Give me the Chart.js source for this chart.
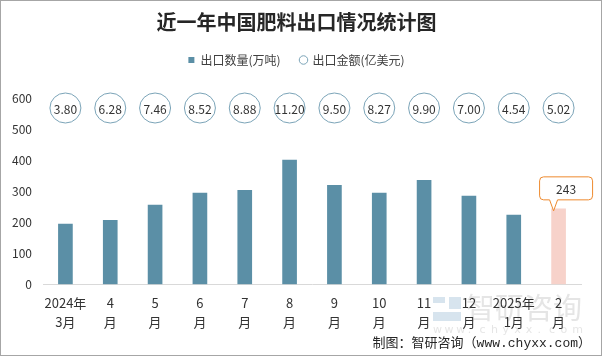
<!DOCTYPE html>
<html><head><meta charset="utf-8">
<script src="https://cdn.jsdelivr.net/npm/chart.js@4/dist/chart.umd.min.js"></script>
<style>html,body{margin:0;padding:0;background:#fff;}#wrap{width:602px;height:356px;position:relative;}canvas{display:block;}</style>
</head><body><div id="wrap"><canvas id="c" width="602" height="356"></canvas></div>
<script>
const chartTitle = '近一年中国肥料出口情况统计图';
const categories = [['2024年','3月'],['4','月'],['5','月'],['6','月'],['7','月'],['8','月'],['9','月'],['10','月'],['11','月'],['12','月'],['2025年','1月'],['2','月']];
const volumeName = '出口数量(万吨)';
const valueName = '出口金额(亿美元)';
const exportVolume = [194, 206, 255, 294, 303, 400, 319, 294, 335, 284, 223, 243];
const exportValue = [3.80, 6.28, 7.46, 8.52, 8.88, 11.20, 9.50, 8.27, 9.90, 7.00, 4.54, 5.02];
const yTickValues = [0, 100, 200, 300, 400, 500, 600];
const highlightIndex = 11;
const footerText = '制图：智研咨询（www.chyxx.com）';

const CJK = '"Noto Sans CJK SC", "Noto Sans", sans-serif';
const barColor = '#5B8FA6';
const highlightColor = '#F7D2CA';
const bubbleColor = '#7BA4B8';

const framePlugin = {
  id: 'frame',
  beforeDraw(chart) {
    const ctx = chart.ctx;
    ctx.save();
    ctx.fillStyle = '#fff';
    ctx.fillRect(0, 0, chart.width, chart.height);
    // watermark
    ctx.globalAlpha = 0.55;
    ctx.fillStyle = '#b7cde0';
    ctx.fillRect(433, 297, 12, 6);
    ctx.fillRect(449, 297, 12, 12);
    ctx.fillRect(433, 312, 28, 9);
    ctx.fillStyle = '#cfcfcf';
    ctx.font = '29px ' + CJK;
    ctx.textAlign = 'left';
    ctx.textBaseline = 'middle';
    ctx.fillText('智研咨询', 466, 308);
    ctx.font = '11px "DejaVu Sans", sans-serif';
    const wm = 'www.chyxx.com';
    for (let i = 0; i < wm.length; i++) ctx.fillText(wm[i], 433 + i * 11.6, 330);
    ctx.restore();
  },
  afterDraw(chart) {
    const ctx = chart.ctx;
    ctx.save();
    ctx.strokeStyle = '#a6a6a6';
    ctx.lineWidth = 1;
    ctx.strokeRect(0.5, 0.5, chart.width - 1, chart.height - 1);
    ctx.fillStyle = '#262626';
    ctx.font = '13px "Liberation Mono", "Noto Sans CJK SC", monospace';
    ctx.textAlign = 'right';
    ctx.textBaseline = 'middle';
    ctx.fillText(footerText, 591, 344);
    ctx.restore();
  }
};

const bubblePlugin = {
  id: 'bubbles',
  afterDatasetsDraw(chart) {
    const ctx = chart.ctx;
    const xs = chart.scales.x;
    const cy = chart.chartArea.top + 10;
    ctx.save();
    exportValue.forEach((v, i) => {
      const cx = xs.getPixelForValue(i);
      ctx.beginPath();
      ctx.ellipse(cx, cy, 15.5, 15, 0, 0, Math.PI * 2);
      ctx.fillStyle = '#fff';
      ctx.fill();
      ctx.strokeStyle = bubbleColor;
      ctx.lineWidth = 1;
      ctx.stroke();
      ctx.fillStyle = '#333';
      ctx.font = '12px ' + CJK;
      ctx.textAlign = 'center';
      ctx.textBaseline = 'middle';
      ctx.fillText(v.toFixed(2), cx, cy + 1);
    });
    ctx.restore();
  }
};

const calloutPlugin = {
  id: 'callout',
  afterDatasetsDraw(chart) {
    const el = chart.getDatasetMeta(0).data[highlightIndex];
    if (!el) return;
    const ctx = chart.ctx;
    const bx = el.x, by = el.y;
    const left = bx - 19, right = bx + 34, bottom = by - 9, top = by - 32, r = 4;
    ctx.save();
    ctx.beginPath();
    ctx.moveTo(left + r, top);
    ctx.lineTo(right - r, top);
    ctx.arcTo(right, top, right, top + r, r);
    ctx.lineTo(right, bottom - r);
    ctx.arcTo(right, bottom, right - r, bottom, r);
    ctx.lineTo(bx - 1, bottom);
    ctx.lineTo(bx - 5, by + 2);
    ctx.lineTo(bx - 9, bottom);
    ctx.lineTo(left + r, bottom);
    ctx.arcTo(left, bottom, left, bottom - r, r);
    ctx.lineTo(left, top + r);
    ctx.arcTo(left, top, left + r, top, r);
    ctx.closePath();
    ctx.fillStyle = '#fff';
    ctx.fill();
    ctx.strokeStyle = '#EE8A2E';
    ctx.lineWidth = 1;
    ctx.stroke();
    ctx.fillStyle = '#333';
    ctx.font = '12px ' + CJK;
    ctx.textAlign = 'center';
    ctx.textBaseline = 'middle';
    ctx.fillText(String(exportVolume[highlightIndex]), (left + right) / 2, (top + bottom) / 2 + 1);
    ctx.restore();
  }
};

new Chart(document.getElementById('c'), {
  type: 'bar',
  data: {
    labels: categories,
    datasets: [{
      label: volumeName,
      data: exportVolume,
      backgroundColor: exportVolume.map((_, i) => i === highlightIndex ? highlightColor : barColor),
      borderWidth: 0,
      barThickness: 14,
      pointStyle: 'rect'
    }, {
      type: 'line',
      label: valueName,
      data: exportValue,
      yAxisID: 'yValue',
      showLine: false,
      pointRadius: 0,
      pointHoverRadius: 0,
      pointStyle: 'circle',
      pointBackgroundColor: '#fff',
      pointBorderColor: bubbleColor,
      pointBorderWidth: 1,
      borderColor: bubbleColor,
      backgroundColor: '#fff'
    }]
  },
  options: {
    responsive: false,
    animation: false,
    devicePixelRatio: 1,
    layout: { padding: { left: 12, right: 21, top: 0, bottom: 16 } },
    plugins: {
      title: {
        display: true,
        text: chartTitle,
        color: '#262626',
        font: { family: CJK, size: 20, weight: 'bold', lineHeight: 1.2 },
        padding: { top: 10, bottom: 0 }
      },
      legend: {
        display: true,
        position: 'top',
        labels: {
          usePointStyle: true,
          boxWidth: 6,
          boxHeight: 6,
          padding: 20,
          color: '#404040',
          font: { family: CJK, size: 12 },
          sort: (a, b) => a.datasetIndex - b.datasetIndex
        }
      },
      tooltip: { enabled: false }
    },
    scales: {
      xTop: {
        type: 'category',
        position: 'top',
        labels: categories,
        grid: { display: false, drawTicks: false },
        border: { display: false },
        ticks: { display: false },
        afterFit(s) { s.height = 22; }
      },
      x: {
        grid: { display: false, drawTicks: false },
        border: { display: true, color: '#d9d9d9', width: 1 },
        ticks: {
          color: '#333',
          font: { family: CJK, size: 13, lineHeight: 1.45 },
          padding: 9,
          maxRotation: 0,
          autoSkip: false
        }
      },
      y: {
        min: 0,
        max: 600,
        afterBuildTicks(s) { s.ticks = yTickValues.map(v => ({ value: v })); },
        afterFit(s) { s.width = 31; },
        grid: { display: false, drawTicks: false },
        border: { display: false },
        ticks: { color: '#333', font: { family: CJK, size: 12 }, padding: 11 }
      },
      yValue: {
        display: false,
        min: 0,
        max: 12
      }
    }
  },
  plugins: [framePlugin, bubblePlugin, calloutPlugin]
});
</script>
</body></html>
